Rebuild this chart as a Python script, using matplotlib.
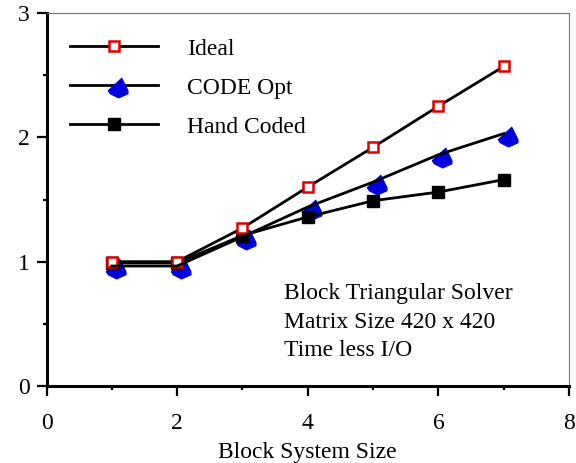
import matplotlib
matplotlib.use("Agg")
import matplotlib.pyplot as plt
from matplotlib.path import Path
from matplotlib.legend_handler import HandlerTuple

plt.rcParams['font.family'] = ['Liberation Serif', 'DejaVu Serif']

block_size = [1, 2, 3, 4, 5, 6, 7]
ideal = [1.00, 1.00, 1.27, 1.60, 1.92, 2.25, 2.57]
code_opt = [0.965, 0.965, 1.20, 1.44, 1.64, 1.86, 2.03]
hand_coded = [0.99, 0.99, 1.21, 1.36, 1.49, 1.56, 1.66]
series_labels = ["Ideal", "CODE Opt", "Hand Coded"]
x_ticks = [0, 2, 4, 6, 8]
y_ticks = [0, 1, 2, 3]
note_lines = ["Block Triangular Solver", "Matrix Size 420 x 420", "Time less I/O"]

DPI = 100
fig = plt.figure(figsize=(5.76, 4.63), dpi=DPI)
ax = fig.add_axes([46.5/576, 1-386/463, (569-46.5)/576, (386-13)/463])

# offset rounded-triangle marker (vertices in pixels relative to data point)
verts = [(7, 7), (-6, -5), (-4, -8), (4, -12), (13, -8), (13, -5), (7, 7)]
codes = [Path.MOVETO] + [Path.LINETO] * 5 + [Path.CLOSEPOLY]
tri_marker = Path(verts, codes)
tri_ms = 2 * 13.5 / (DPI / 72)

FS = 17
lw = 2.0

h_line, = ax.plot(block_size, hand_coded, color='black', lw=lw, marker='s', ms=8.5,
                  mfc='black', mec='black', mew=1.0, zorder=2)
i_line, = ax.plot(block_size, ideal, color='black', lw=lw, marker='s', ms=7,
                  mfc='white', mec='#dd0000', mew=1.8, zorder=3)
c_marks, = ax.plot(block_size, code_opt, ls='none', marker=tri_marker, ms=tri_ms,
                   mfc='#0000dd', mec='#0000dd', mew=0.8, zorder=1.5)
c_line, = ax.plot(block_size, code_opt, color='black', lw=lw, zorder=4)

ax.set_xlim(0, 8)
ax.set_ylim(0, 3)
ax.set_xticks(x_ticks)
ax.set_yticks(y_ticks)
ax.set_xticks([1, 3, 5, 7], minor=True)
ax.set_yticks([0.5, 1.5, 2.5], minor=True)
ax.tick_params(which='major', direction='out', length=7, width=1.6, labelsize=FS, pad=5)
ax.tick_params(which='minor', direction='out', length=3, width=1.6)
ax.tick_params(axis='x', which='major', pad=12.5)

for s in ['left', 'bottom']:
    ax.spines[s].set_linewidth(2.2)
for s in ['right', 'top']:
    ax.spines[s].set_linewidth(0.8)
    ax.spines[s].set_color('#777777')

ax.set_xlabel("Block System Size", fontsize=FS, labelpad=6)

leg = ax.legend([i_line, (c_line, c_marks), h_line], series_labels,
                handler_map={tuple: HandlerTuple(ndivide=1)},
                loc='upper left', bbox_to_anchor=(0.005, 0.99), frameon=False,
                fontsize=FS, handlelength=3.7, handletextpad=1.25,
                labelspacing=0.74, numpoints=1)

ax.text(0.454, 0.275, "\n".join(note_lines), transform=ax.transAxes,
        fontsize=FS, ha='left', va='top', linespacing=1.47)

fig.savefig("out.png", dpi=DPI)
